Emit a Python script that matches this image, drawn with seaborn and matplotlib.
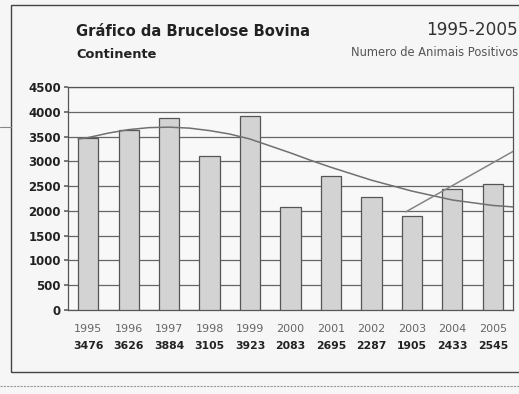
import numpy as np
import pandas as pd
import matplotlib
matplotlib.use("Agg")
import matplotlib.pyplot as plt
import seaborn as sns
from matplotlib.patches import Rectangle
from matplotlib.lines import Line2D

years = ["1995", "1996", "1997", "1998", "1999", "2000", "2001", "2002", "2003", "2004", "2005"]
values = [3476, 3626, 3884, 3105, 3923, 2083, 2695, 2287, 1905, 2433, 2545]
yticks = [0, 500, 1000, 1500, 2000, 2500, 3000, 3500, 4000, 4500]
# smooth trend curve (position in year index, value)
trend1_x = [-0.25, 0, 0.5, 1, 1.5, 2, 2.5, 3, 3.5, 4, 4.5, 5, 5.5, 6, 7, 8, 9, 10, 10.5]
trend1_y = [3450, 3480, 3570, 3640, 3680, 3690, 3670, 3620, 3550, 3450, 3310, 3170, 3020,
            2880, 2620, 2400, 2220, 2110, 2080]
# second (short) trend line
trend2_x = [7.85, 10.5]
trend2_y = [1980, 3200]

sns.set_theme(style="white")
plt.rcParams['font.family'] = ['DejaVu Sans']

fig = plt.figure(figsize=(5.19, 3.94), dpi=100)
fig.patch.set_facecolor("#f6f6f6")
ax = fig.add_axes([68/519, 1-310/394, (513-68)/519, (310-87)/394])
ax.set_facecolor("#f8f8f8")

df = pd.DataFrame({"year": years, "value": values})
sns.barplot(data=df, x="year", y="value", color="#d3d3d3", width=0.5,
            edgecolor="#555555", linewidth=0.9, saturation=1, ax=ax, zorder=3)

sns.lineplot(x=trend1_x, y=trend1_y, ax=ax, color="#707070", lw=1.1, zorder=4)
sns.lineplot(x=trend2_x, y=trend2_y, ax=ax, color="#858585", lw=1.1, zorder=4)

ax.set_xlim(-0.5, 10.5)
ax.set_ylim(0, 4500)
ax.set_yticks(yticks)
ax.set_yticklabels([str(v) for v in yticks], fontsize=8.5, fontweight="bold", color="#222222")
ax.yaxis.grid(True, color="#666666", lw=0.9, zorder=0)
ax.set_axisbelow(True)
ax.tick_params(axis="y", length=3, color="#666666", pad=2, left=True)
ax.set_xticks([])
ax.set_xlabel("")
ax.set_ylabel("")
for s in ax.spines.values():
    s.set_color("#555555")
    s.set_linewidth(0.9)

tr = ax.get_xaxis_transform()
for i, (yr, v) in enumerate(zip(years, values)):
    ax.text(i, -0.085, yr, transform=tr, ha="center", va="center",
            fontsize=8, color="#666666")
    ax.text(i, -0.161, str(v), transform=tr, ha="center", va="center",
            fontsize=7.8, fontweight="bold", color="#222222")

fig.text(76/519, 1-31/394, "Gráfico da Brucelose Bovina", fontsize=10.6,
         fontweight="bold", color="#222222", ha="left", va="center")
fig.text(76/519, 1-54/394, "Continente", fontsize=9.4, fontweight="bold",
         color="#222222", ha="left", va="center")
fig.text(518/519, 1-30/394, "1995-2005", fontsize=12.2, color="#333333",
         ha="right", va="center")
fig.text(518/519, 1-52/394, "Numero de Animais Positivos", fontsize=8.3,
         color="#555555", ha="right", va="center")

# outer frame
fig.patches.append(Rectangle((11/519, 1-372/394), (525-11)/519, (372-5)/394,
                             transform=fig.transFigure, fill=False,
                             edgecolor="#444444", lw=1.0))
fig.lines.append(Line2D([0, 11/519], [1-127/394]*2, transform=fig.transFigure,
                        color="#888888", lw=0.8))
fig.lines.append(Line2D([0, 1], [1-386/394]*2, transform=fig.transFigure,
                        color="#999999", lw=0.8, ls=(0, (2, 1))))

fig.savefig("out.png", dpi=100, facecolor=fig.get_facecolor())
